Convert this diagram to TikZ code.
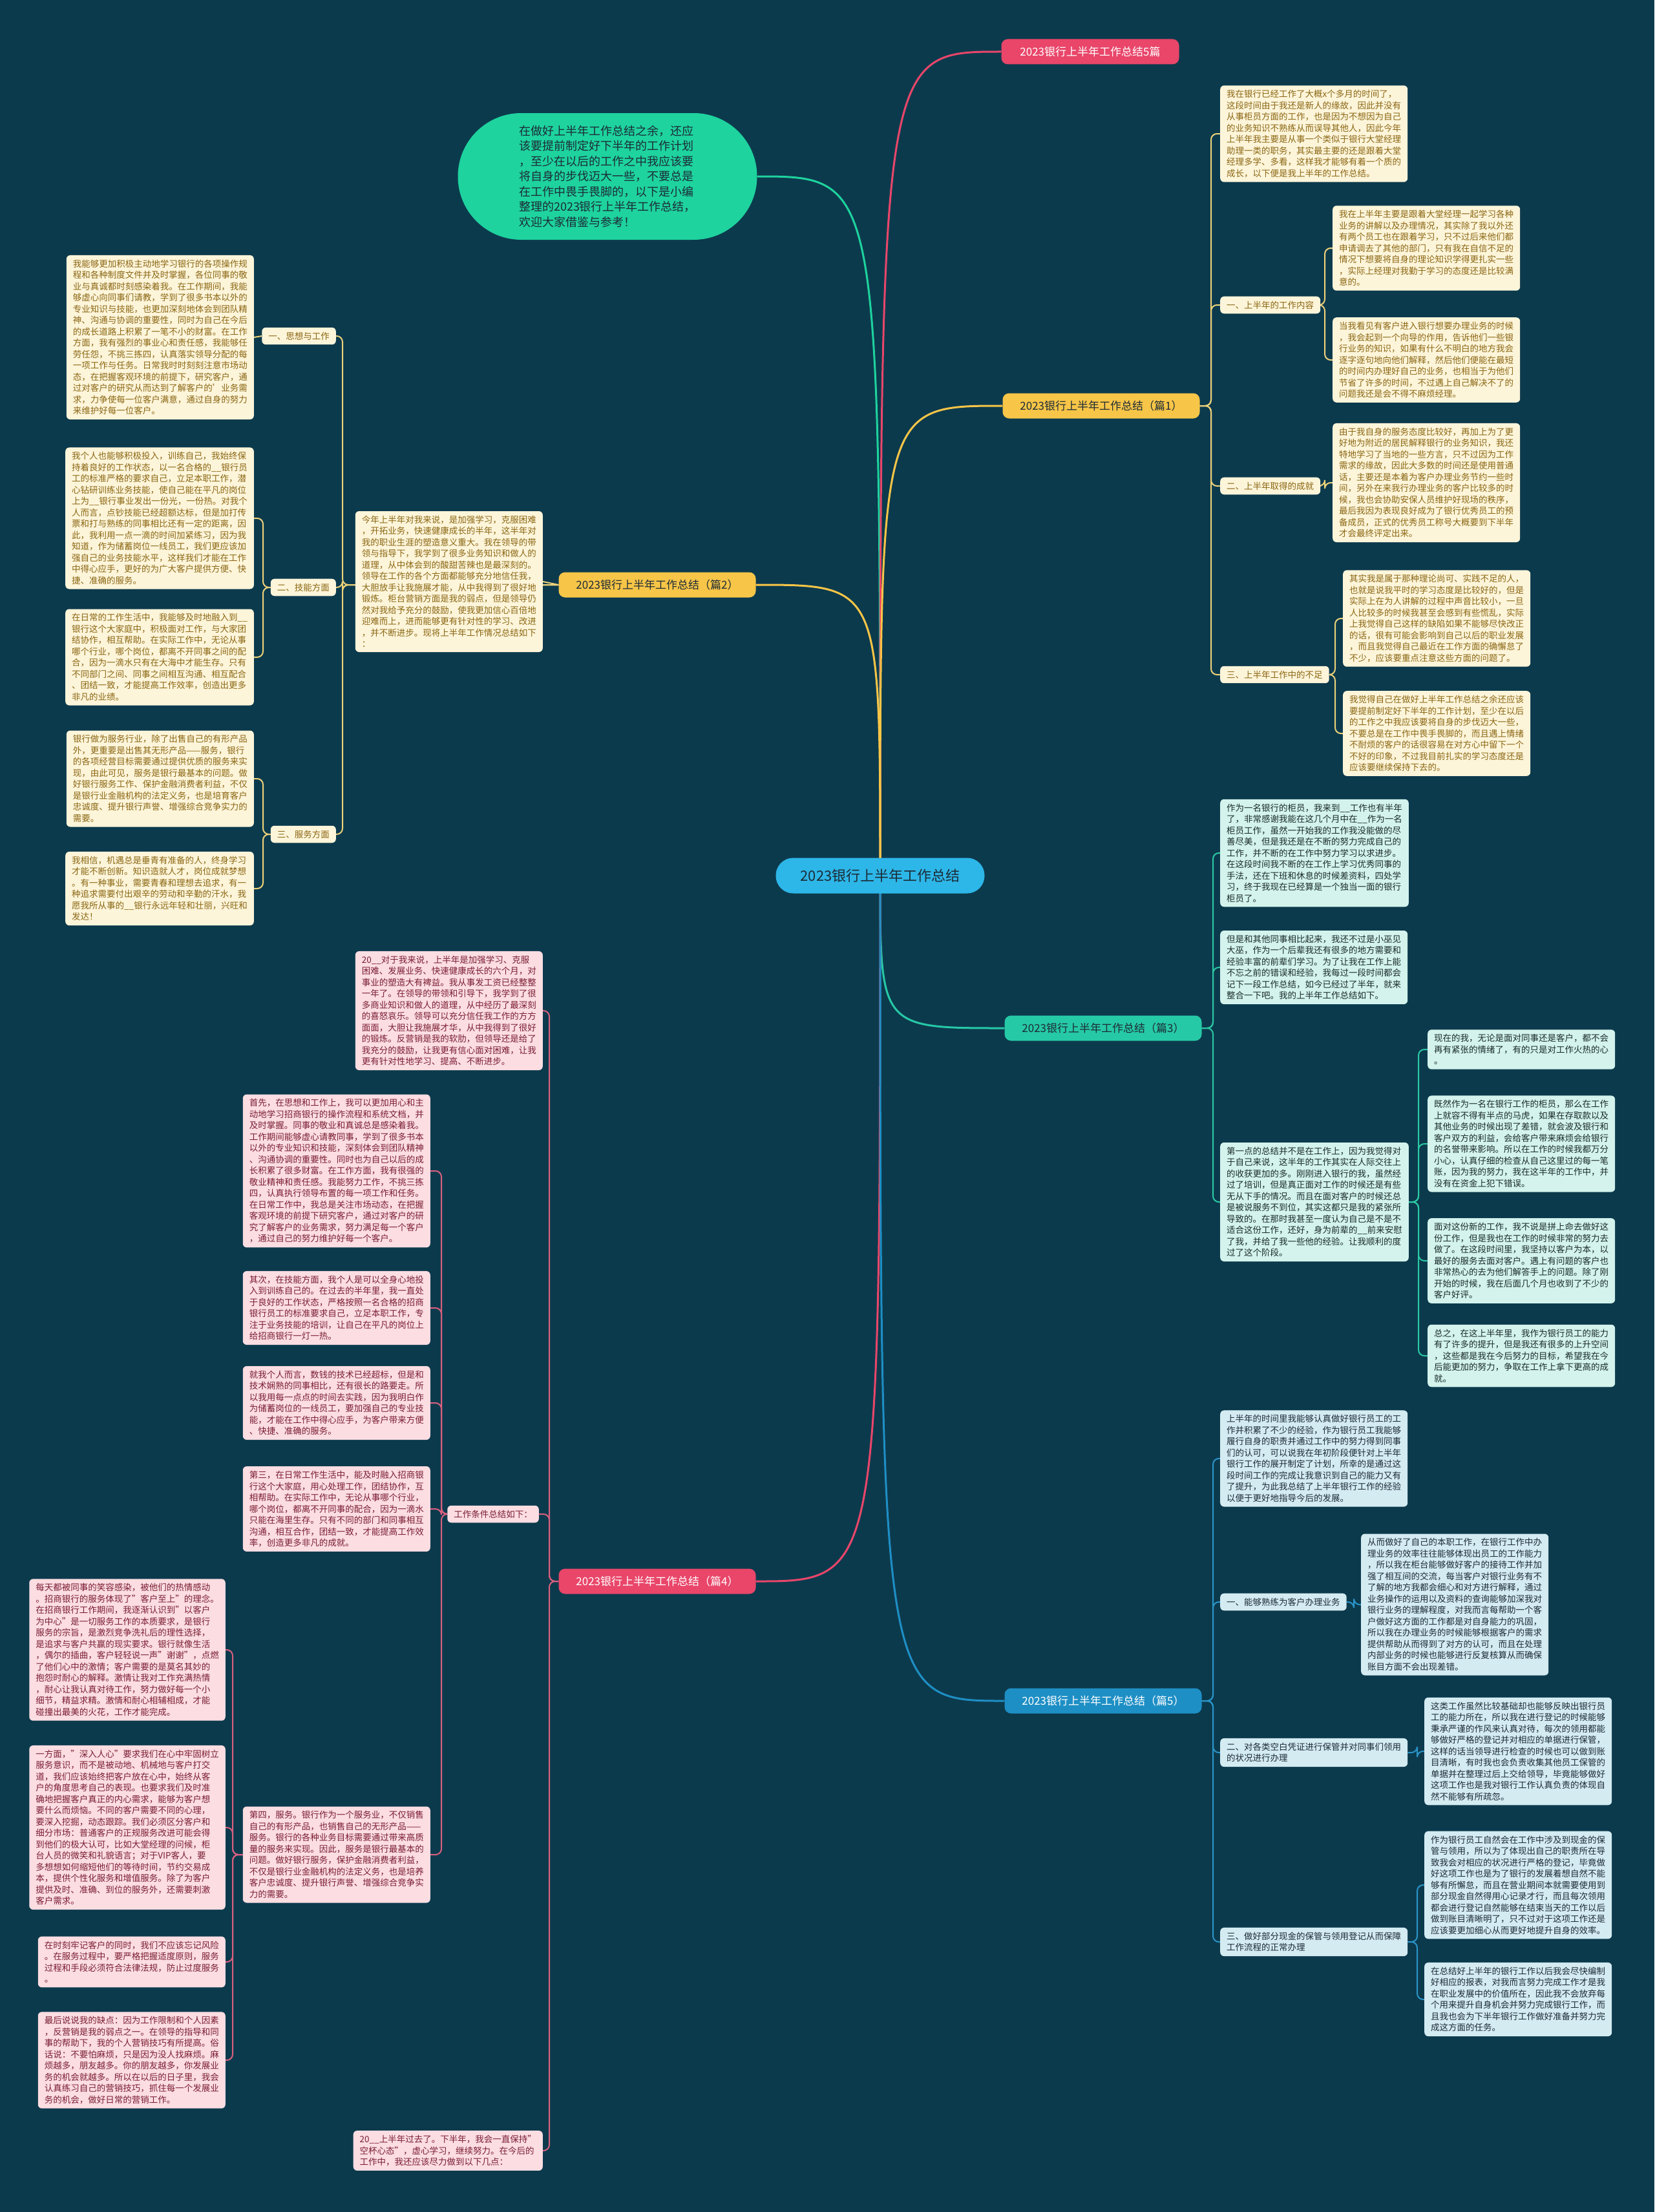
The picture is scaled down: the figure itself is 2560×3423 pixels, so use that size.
\documentclass[tikz,border=0pt]{standalone}
\usepackage{fontspec}
\setmainfont{Noto Sans CJK SC}
\usetikzlibrary{calc}
\pgfdeclarelayer{bg}
\pgfdeclarelayer{edges}
\pgfsetlayers{bg,edges,main}
\definecolor{bgc}{HTML}{0C3A4D}
\definecolor{centc}{HTML}{2DB6E8}
\definecolor{introc}{HTML}{1ED39E}
\definecolor{redc}{HTML}{E9466A}
\definecolor{yelc}{HTML}{F7C547}
\definecolor{tealc}{HTML}{26C9A6}
\definecolor{bluec}{HTML}{1E8FC5}
\definecolor{creamc}{HTML}{FDF5DA}
\definecolor{mintc}{HTML}{D3F3EC}
\definecolor{pinkc}{HTML}{FBDDE2}
\definecolor{lbluec}{HTML}{D4EBF2}
\definecolor{goldt}{HTML}{8A6612}
\definecolor{darkt}{HTML}{1B2B2B}
\definecolor{maroont}{HTML}{7B1E33}
\definecolor{slatet}{HTML}{1C2B36}
\definecolor{yline}{HTML}{EDD27A}
\definecolor{pline}{HTML}{D9607F}
\definecolor{tline}{HTML}{2BC9A3}
\definecolor{bline}{HTML}{2A95C9}
\newcommand{\bodyfs}{\fontsize{13.5}{17.5}\selectfont}
\tikzset{
  base/.style={rounded corners=6pt, inner xsep=10pt, inner ysep=7pt, align=left, font=\bodyfs},
  cream/.style={base, fill=creamc, text=goldt},
  mint/.style={base, fill=mintc, text=darkt},
  pinkb/.style={base, fill=pinkc, text=maroont},
  blueb/.style={base, fill=lbluec, text=slatet},
  branch/.style={rounded corners=10pt, minimum width=305pt, minimum height=39pt, inner sep=4pt, font=\fontsize{17}{20}\selectfont},
  ey/.style={draw=yline, line width=2pt, rounded corners=9pt},
  ep/.style={draw=pline, line width=2pt, rounded corners=9pt},
  et/.style={draw=tline, line width=2pt, rounded corners=9pt},
  eb/.style={draw=bline, line width=2pt, rounded corners=9pt},
  cl/.style={line width=3pt}
}
\begin{document}
\begin{tikzpicture}[x=1pt,y=-1pt]
\begin{pgfonlayer}{bg}
\fill[bgc] (0,0) rectangle (2560,3423);
\end{pgfonlayer}
\useasboundingbox (0,0) rectangle (2560,3423);

% trunks
\coordinate (t1) at (1874,0);
\coordinate (t1a) at (2050,0);
\coordinate (t1c) at (2066,0);
\coordinate (t2) at (530,0);
\coordinate (t2b) at (407,0);
\coordinate (t3) at (1877,0);
\coordinate (t3c) at (2195,0);
\coordinate (t4) at (850,0);
\coordinate (t4l) at (683,0);
\coordinate (t4f) at (360,0);
\coordinate (t5) at (1877,0);
\coordinate (t5a) at (2095,0);
\coordinate (t5b) at (2193,0);

% center and intro
\node[fill=centc, rounded corners=27pt, minimum width=323pt, minimum height=55pt, font=\fontsize{22}{26}\selectfont, text=slatet] (c) at (1362,1355) {2023银行上半年工作总结};
\node[fill=introc, rounded corners=98pt, minimum width=463pt, minimum height=196pt, align=left, font=\fontsize{18}{23.5}\selectfont, text=slatet] (intro) at (940,273) {在做好上半年工作总结之余，还应\\该要提前制定好下半年的工作计划\\，至少在以后的工作之中我应该要\\将自身的步伐迈大一些，不要总是\\在工作中畏手畏脚的，以下是小编\\整理的2023银行上半年工作总结，\\欢迎大家借鉴与参考！};

% branches
\node[branch, minimum width=275pt, fill=redc, text=white] (b0) at (1687,80) {2023银行上半年工作总结5篇};
\node[branch, fill=yelc, text=slatet] (b1) at (1704,628) {2023银行上半年工作总结（篇1）};
\node[branch, fill=yelc, text=slatet] (b2) at (1017,905) {2023银行上半年工作总结（篇2）};
\node[branch, fill=tealc, text=slatet] (b3) at (1707,1591) {2023银行上半年工作总结（篇3）};
\node[branch, fill=redc, text=white] (b4) at (1017,2447) {2023银行上半年工作总结（篇4）};
\node[branch, fill=bluec, text=white] (b5) at (1707,2632) {2023银行上半年工作总结（篇5）};

% ---------- 篇1
\node[cream, anchor=west] (p1a) at (1888,207) {我在银行已经工作了大概x个多月的时间了，\\这段时间由于我还是新人的缘故，因此并没有\\从事柜员方面的工作，也是因为不想因为自己\\的业务知识不熟练从而误导其他人，因此今年\\上半年我主要是从事一个类似于银行大堂经理\\助理一类的职务，其实最主要的还是跟着大堂\\经理多学、多看，这样我才能够有着一个质的\\成长，以下便是我上半年的工作总结。};
\node[cream, anchor=west] (l1a) at (1888,472) {一、上半年的工作内容};
\node[cream, anchor=west] (p1b) at (2062,384) {我在上半年主要是跟着大堂经理一起学习各种\\业务的讲解以及办理情况，其实除了我以外还\\有两个员工也在跟着学习，只不过后来他们都\\申请调去了其他的部门，只有我在自信不足的\\情况下想要将自身的理论知识学得更扎实一些\\，实际上经理对我勤于学习的态度还是比较满\\意的。};
\node[cream, anchor=west] (p1c) at (2062,557) {当我看见有客户进入银行想要办理业务的时候\\，我会起到一个向导的作用，告诉他们一些银\\行业务的知识，如果有什么不明白的地方我会\\逐字逐句地向他们解释，然后他们便能在最短\\的时间内办理好自己的业务，也相当于为他们\\节省了许多的时间，不过遇上自己解决不了的\\问题我还是会不得不麻烦经理。};
\node[cream, anchor=west] (l1b) at (1888,752) {二、上半年取得的成就};
\node[cream, anchor=west] (p1d) at (2062,747) {由于我自身的服务态度比较好，再加上为了更\\好地为附近的居民解释银行的业务知识，我还\\特地学习了当地的一些方言，只不过因为工作\\需求的缘故，因此大多数的时间还是使用普通\\话，主要还是本着为客户办理业务节约一些时\\间，另外在来我行办理业务的客户比较多的时\\候，我也会协助安保人员维护好现场的秩序，\\最后我因为表现良好成为了银行优秀员工的预\\备成员，正式的优秀员工称号大概要到下半年\\才会最终评定出来。};
\node[cream, anchor=west] (l1c) at (1888,1044) {三、上半年工作中的不足};
\node[cream, anchor=west] (p1e) at (2078,957) {其实我是属于那种理论尚可、实践不足的人，\\也就是说我平时的学习态度是比较好的，但是\\实际上在为人讲解的过程中声音比较小，一旦\\人比较多的时候我甚至会感到有些慌乱，实际\\上我觉得自己这样的缺陷如果不能够尽快改正\\的话，很有可能会影响到自己以后的职业发展\\，而且我觉得自己最近在工作方面的确懈怠了\\不少，应该要重点注意这些方面的问题了。};
\node[cream, anchor=west] (p1f) at (2078,1135) {我觉得自己在做好上半年工作总结之余还应该\\要提前制定好下半年的工作计划，至少在以后\\的工作之中我应该要将自身的步伐迈大一些，\\不要总是在工作中畏手畏脚的，而且遇上情绪\\不耐烦的客户的话很容易在对方心中留下一个\\不好的印象，不过我目前扎实的学习态度还是\\应该要继续保持下去的。};

% ---------- 篇2
\node[cream, anchor=east] (p2a) at (840,900) {今年上半年对我来说，是加强学习，克服困难\\，开拓业务，快速健康成长的半年，这半年对\\我的职业生涯的塑造意义重大。我在领导的带\\领与指导下，我学到了很多业务知识和做人的\\道理，从中体会到的酸甜苦辣也是最深刻的。\\领导在工作的各个方面都能够充分地信任我，\\大胆放手让我施展才能，从中我得到了很好地\\锻炼。柜台营销方面是我的弱点，但是领导仍\\然对我给予充分的鼓励，使我更加信心百倍地\\迎难而上，进而能够更有针对性的学习、改进\\，并不断进步。现将上半年工作情况总结如下\\：};
\node[cream, anchor=east] (l2a) at (520,520) {一、思想与工作};
\node[cream, anchor=east] (p2b) at (393,522) {我能够更加积极主动地学习银行的各项操作规\\程和各种制度文件并及时掌握，各位同事的敬\\业与真诚都时刻感染着我。在工作期间，我能\\够虚心向同事们请教，学到了很多书本以外的\\专业知识与技能，也更加深刻地体会到团队精\\神、沟通与协调的重要性，同时为自己在今后\\的成长道路上积累了一笔不小的财富。在工作\\方面，我有强烈的事业心和责任感，我能够任\\劳任怨，不挑三拣四，认真落实领导分配的每\\一项工作与任务。日常我时时刻刻注意市场动\\态，在把握客观环境的前提下，研究客户，通\\过对客户的研究从而达到了解客户的'业务需\\求，力争使每一位客户满意，通过自身的努力\\来维护好每一位客户。};
\node[cream, anchor=east] (l2b) at (520,909) {二、技能方面};
\node[cream, anchor=east] (p2c) at (393,802) {我个人也能够积极投入，训练自己，我始终保\\持着良好的工作状态，以一名合格的\_\_银行员\\工的标准严格的要求自己，立足本职工作，潜\\心钻研训练业务技能，使自己能在平凡的岗位\\上为\_\_银行事业发出一份光，一份热。对我个\\人而言，点钞技能已经超额达标，但是加打传\\票和打与熟练的同事相比还有一定的距离，因\\此，我利用一点一滴的时间加紧练习，因为我\\知道，作为储蓄岗位一线员工，我们更应该加\\强自己的业务技能水平，这样我们才能在工作\\中得心应手，更好的为广大客户提供方便、快\\捷、准确的服务。};
\node[cream, anchor=east] (p2d) at (393,1017) {在日常的工作生活中，我能够及时地融入到\_\_\\银行这个大家庭中，积极面对工作，与大家团\\结协作，相互帮助。在实际工作中，无论从事\\哪个行业，哪个岗位，都离不开同事之间的配\\合，因为一滴水只有在大海中才能生存。只有\\不同部门之间、同事之间相互沟通、相互配合\\、团结一致，才能提高工作效率，创造出更多\\非凡的业绩。};
\node[cream, anchor=east] (l2c) at (520,1291) {三、服务方面};
\node[cream, anchor=east] (p2e) at (393,1205) {银行做为服务行业，除了出售自己的有形产品\\外，更重要是出售其无形产品——服务，银行\\的各项经营目标需要通过提供优质的服务来实\\现，由此可见，服务是银行最基本的问题。做\\好银行服务工作、保护金融消费者利益，不仅\\是银行业金融机构的法定义务，也是培育客户\\忠诚度、提升银行声誉、增强综合竞争实力的\\需要。};
\node[cream, anchor=east] (p2f) at (393,1375) {我相信，机遇总是垂青有准备的人，终身学习\\才能不断创新。知识造就人才，岗位成就梦想\\。有一种事业，需要青春和理想去追求，有一\\种追求需要付出艰辛的劳动和辛勤的汗水，我\\愿我所从事的\_\_银行永远年轻和壮丽，兴旺和\\发达！};

% ---------- 篇3
\node[mint, anchor=west] (p3a) at (1888,1320) {作为一名银行的柜员，我来到\_\_工作也有半年\\了，非常感谢我能在这几个月中在\_\_作为一名\\柜员工作，虽然一开始我的工作我没能做的尽\\善尽美，但是我还是在不断的努力完成自己的\\工作，并不断的在工作中努力学习以求进步。\\在这段时间我不断的在工作上学习优秀同事的\\手法，还在下班和休息的时候差资料，四处学\\习，终于我现在已经算是一个独当一面的银行\\柜员了。};
\node[mint, anchor=west] (p3b) at (1888,1497) {但是和其他同事相比起来，我还不过是小巫见\\大巫，作为一个后辈我还有很多的地方需要和\\经验丰富的前辈们学习。为了让我在工作上能\\不忘之前的错误和经验，我每过一段时间都会\\记下一段工作总结，如今已经过了半年，就来\\整合一下吧。我的上半年工作总结如下。};
\node[mint, anchor=west] (p3c) at (1888,1860) {第一点的总结并不是在工作上，因为我觉得对\\于自己来说，这半年的工作其实在人际交往上\\的收获更加的多。刚刚进入银行的我，虽然经\\过了培训，但是真正面对工作的时候还是有些\\无从下手的情况。而且在面对客户的时候还总\\是被说服务不到位，其实这都只是我的紧张所\\导致的。在那时我甚至一度认为自己是不是不\\适合这份工作，还好，身为前辈的\_\_前来安慰\\了我，并给了我一些他的经验。让我顺利的度\\过了这个阶段。};
\node[mint, anchor=west] (p3d) at (2209,1624) {现在的我，无论是面对同事还是客户，都不会\\再有紧张的情绪了，有的只是对工作火热的心\\。};
\node[mint, anchor=west] (p3e) at (2209,1770) {既然作为一名在银行工作的柜员，那么在工作\\上就容不得有半点的马虎，如果在存取款以及\\其他业务的时候出现了差错，就会波及银行和\\客户双方的利益，会给客户带来麻烦会给银行\\的名誉带来影响。所以在工作的时候我都万分\\小心，认真仔细的检查从自己这里过的每一笔\\账，因为我的努力，我在这半年的工作中，并\\没有在资金上犯下错误。};
\node[mint, anchor=west] (p3f) at (2209,1951) {面对这份新的工作，我不说是拼上命去做好这\\份工作，但是我也在工作的时候非常的努力去\\做了。在这段时间里，我坚持以客户为本，以\\最好的服务去面对客户。遇上有问题的客户也\\非常热心的去为他们解答手上的问题。除了刚\\开始的时候，我在后面几个月也收到了不少的\\客户好评。};
\node[mint, anchor=west] (p3g) at (2209,2098) {总之，在这上半年里，我作为银行员工的能力\\有了许多的提升，但是我还有很多的上升空间\\，这些都是我在今后努力的目标，希望我在今\\后能更加的努力，争取在工作上拿下更高的成\\就。};

% ---------- 篇4
\node[pinkb, anchor=east] (p4a) at (840,1564) {20\_\_对于我来说，上半年是加强学习、克服\\困难、发展业务、快速健康成长的六个月，对\\事业的塑造大有裨益。我从事发工资已经整整\\一年了。在领导的带领和引导下，我学到了很\\多商业知识和做人的道理，从中经历了最深刻\\的喜怒哀乐。领导可以充分信任我工作的方方\\面面，大胆让我施展才华，从中我得到了很好\\的锻炼。反营销是我的软肋，但领导还是给了\\我充分的鼓励，让我更有信心面对困难，让我\\更有针对性地学习、提高、不断进步。};
\node[pinkb, anchor=east] (l4) at (834,2343) {工作条件总结如下：};
\node[pinkb, anchor=east] (p4k) at (840,3328) {20\_\_上半年过去了。下半年，我会一直保持"\\空杯心态"，虚心学习，继续努力。在今后的\\工作中，我还应该尽力做到以下几点：};
\node[pinkb, anchor=east] (p4b) at (666,1812) {首先，在思想和工作上，我可以更加用心和主\\动地学习招商银行的操作流程和系统文档，并\\及时掌握。同事的敬业和真诚总是感染着我。\\工作期间能够虚心请教同事，学到了很多书本\\以外的专业知识和技能，深刻体会到团队精神\\、沟通协调的重要性。同时也为自己以后的成\\长积累了很多财富。在工作方面，我有很强的\\敬业精神和责任感。我能努力工作，不挑三拣\\四，认真执行领导布置的每一项工作和任务。\\在日常工作中，我总是关注市场动态，在把握\\客观环境的前提下研究客户，通过对客户的研\\究了解客户的业务需求，努力满足每一个客户\\，通过自己的努力维护好每一个客户。};
\node[pinkb, anchor=east] (p4c) at (666,2024) {其次，在技能方面，我个人是可以全身心地投\\入到训练自己的。在过去的半年里，我一直处\\于良好的工作状态，严格按照一名合格的招商\\银行员工的标准要求自己，立足本职工作，专\\注于业务技能的培训，让自己在平凡的岗位上\\给招商银行一灯一热。};
\node[pinkb, anchor=east] (p4d) at (666,2171) {就我个人而言，数钱的技术已经超标，但是和\\技术娴熟的同事相比，还有很长的路要走。所\\以我用每一点点的时间去实践，因为我明白作\\为储蓄岗位的一线员工，要加强自己的专业技\\能，才能在工作中得心应手，为客户带来方便\\、快捷、准确的服务。};
\node[pinkb, anchor=east] (p4e) at (666,2335) {第三，在日常工作生活中，能及时融入招商银\\行这个大家庭，用心处理工作，团结协作，互\\相帮助。在实际工作中，无论从事哪个行业，\\哪个岗位，都离不开同事的配合，因为一滴水\\只能在海里生存。只有不同的部门和同事相互\\沟通，相互合作，团结一致，才能提高工作效\\率，创造更多非凡的成就。};
\node[pinkb, anchor=east] (p4f) at (666,2870) {第四，服务。银行作为一个服务业，不仅销售\\自己的有形产品，也销售自己的无形产品——\\服务。银行的各种业务目标需要通过带来高质\\量的服务来实现。因此，服务是银行最基本的\\问题。做好银行服务，保护金融消费者利益，\\不仅是银行业金融机构的法定义务，也是培养\\客户忠诚度、提升银行声誉、增强综合竞争实\\力的需要。};
\node[pinkb, anchor=east] (p4g) at (349,2553) {每天都被同事的笑容感染，被他们的热情感动\\。招商银行的服务体现了"客户至上"的理念。\\在招商银行工作期间，我逐渐认识到"以客户\\为中心"是一切服务工作的本质要求，是银行\\服务的宗旨，是激烈竞争洗礼后的理性选择，\\是追求与客户共赢的现实要求。银行就像生活\\，偶尔的插曲，客户轻轻说一声"谢谢"，点燃\\了他们心中的激情；客户需要的是莫名其妙的\\抱怨时耐心的解释。激情让我对工作充满热情\\，耐心让我认真对待工作，努力做好每一个小\\细节，精益求精。激情和耐心相辅相成，才能\\碰撞出最美的火花，工作才能完成。};
\node[pinkb, anchor=east] (p4h) at (349,2828) {一方面，"深入人心"要求我们在心中牢固树立\\服务意识，而不是被动地、机械地与客户打交\\道，我们应该始终把客户放在心中，始终从客\\户的角度思考自己的表现。也要求我们及时准\\确地把握客户真正的内心需求，能够为客户想\\要什么而烦恼。不同的客户需要不同的心理，\\要深入挖掘，动态跟踪。我们必须区分客户和\\细分市场：普通客户的正规服务改进可能会得\\到他们的极大认可，比如大堂经理的问候，柜\\台人员的微笑和礼貌语言；对于VIP客人，要\\多想想如何缩短他们的等待时间，节约交易成\\本，提供个性化服务和增值服务。除了为客户\\提供及时、准确、到位的服务外，还需要刺激\\客户需求。};
\node[pinkb, anchor=east] (p4i) at (349,3036) {在时刻牢记客户的同时，我们不应该忘记风险\\。在服务过程中，要严格把握适度原则，服务\\过程和手段必须符合法律法规，防止过度服务\\。};
\node[pinkb, anchor=east] (p4j) at (349,3188) {最后说说我的缺点：因为工作限制和个人因素\\，反营销是我的弱点之一。在领导的指导和同\\事的帮助下，我的个人营销技巧有所提高。俗\\话说：不要怕麻烦，只是因为没人找麻烦。麻\\烦越多，朋友越多。你的朋友越多，你发展业\\务的机会就越多。所以在以后的日子里，我会\\认真练习自己的营销技巧，抓住每一个发展业\\务的机会，做好日常的营销工作。};

% ---------- 篇5
\node[blueb, anchor=west] (p5a) at (1888,2257) {上半年的时间里我能够认真做好银行员工的工\\作并积累了不少的经验，作为银行员工我能够\\履行自身的职责并通过工作中的努力得到同事\\们的认可，可以说我在年初阶段便针对上半年\\银行工作的展开制定了计划，所幸的是通过这\\段时间工作的完成让我意识到自己的能力又有\\了提升，为此我总结了上半年银行工作的经验\\以便于更好地指导今后的发展。};
\node[blueb, anchor=west] (l5a) at (1888,2479) {一、能够熟练为客户办理业务};
\node[blueb, anchor=west] (p5b) at (2106,2483) {从而做好了自己的本职工作，在银行工作中办\\理业务的效率往往能够体现出员工的工作能力\\，所以我在柜台能够做好客户的接待工作并加\\强了相互间的交流，每当客户对银行业务有不\\了解的地方我都会细心和对方进行解释，通过\\业务操作的运用以及资料的查询能够加深我对\\银行业务的理解程度，对我而言每帮助一个客\\户做好这方面的工作都是对自身能力的巩固，\\所以我在办理业务的时候能够根据客户的需求\\提供帮助从而得到了对方的认可，而且在处理\\内部业务的时候也能够进行反复核算从而确保\\账目方面不会出现差错。};
\node[blueb, anchor=west] (l5b) at (1888,2712) {二、对各类空白凭证进行保管并对同事们领用\\的状况进行办理};
\node[blueb, anchor=west] (p5c) at (2204,2710) {这类工作虽然比较基础却也能够反映出银行员\\工的能力所在，所以我在进行登记的时候能够\\秉承严谨的作风来认真对待，每次的领用都能\\够做好严格的登记并对相应的单据进行保管，\\这样的话当领导进行检查的时候也可以做到账\\目清晰，有时我也会负责收集其他员工保管的\\单据并在整理过后上交给领导，毕竟能够做好\\这项工作也是我对银行工作认真负责的体现自\\然不能够有所疏忽。};
\node[blueb, anchor=west] (l5c) at (1888,3005) {三、做好部分现金的保管与领用登记从而保障\\工作流程的正常办理};
\node[blueb, anchor=west] (p5d) at (2204,2917) {作为银行员工自然会在工作中涉及到现金的保\\管与领用，所以为了体现出自己的职责所在导\\致我会对相应的状况进行严格的登记，毕竟做\\好这项工作也是为了银行的发展着想自然不能\\够有所懈怠，而且在营业期间本就需要使用到\\部分现金自然得用心记录才行，而且每次领用\\都会进行登记自然能够在结束当天的工作以后\\做到账目清晰明了，只不过对于这项工作还是\\应该要更加细心从而更好地提升自身的效率。};
\node[blueb, anchor=west] (p5e) at (2204,3094) {在总结好上半年的银行工作以后我会尽快编制\\好相应的报表，对我而言努力完成工作才是我\\在职业发展中的价值所在，因此我不会放弃每\\个用来提升自身机会并努力完成银行工作，而\\且我也会为下半年银行工作做好准备并努力完\\成这方面的任务。};

\begin{pgfonlayer}{edges}
% center curves
\draw[cl, draw=introc] (c.center) .. controls (c.center |- intro.east) .. (intro.east);
\draw[cl, draw=redc] (c.center) .. controls (c.center |- b0.west) .. (b0.west);
\draw[cl, draw=yelc] (c.center) .. controls (c.center |- b1.west) .. (b1.west);
\draw[cl, draw=yelc] (c.center) .. controls (c.center |- b2.east) .. (b2.east);
\draw[cl, draw=tealc] (c.center) .. controls (c.center |- b3.west) .. (b3.west);
\draw[cl, draw=redc] (c.center) .. controls (c.center |- b4.east) .. (b4.east);
\draw[cl, draw=bluec] (c.center) .. controls (c.center |- b5.west) .. (b5.west);
% 篇1
\foreach \n in {p1a,l1a,l1b,l1c} \draw[ey] (b1.east) -- (b1.east -| t1) |- (\n.west);
\foreach \n in {p1b,p1c} \draw[ey] (l1a.east) -- (l1a.east -| t1a) |- (\n.west);
\draw[ey] (l1b.east) -- (l1b.east -| t1a) |- (p1d.west);
\foreach \n in {p1e,p1f} \draw[ey] (l1c.east) -- (l1c.east -| t1c) |- (\n.west);
% 篇2
\draw[ey] (b2.west) -- (p2a.east);
\foreach \n in {l2a,l2b,l2c} \draw[ey] (b2.west) -- (b2.west -| t2) |- (\n.east);
\draw[ey] (l2a.west) -- (p2b.east);
\foreach \n in {p2c,p2d} \draw[ey] (l2b.west) -- (l2b.west -| t2b) |- (\n.east);
\foreach \n in {p2e,p2f} \draw[ey] (l2c.west) -- (l2c.west -| t2b) |- (\n.east);
% 篇3
\foreach \n in {p3a,p3b,p3c} \draw[et] (b3.east) -- (b3.east -| t3) |- (\n.west);
\foreach \n in {p3d,p3e,p3f,p3g} \draw[et] (p3c.east) -- (p3c.east -| t3c) |- (\n.west);
% 篇4
\foreach \n in {p4a,l4,p4k} \draw[ep] (b4.west) -- (b4.west -| t4) |- (\n.east);
\foreach \n in {p4b,p4c,p4d,p4e,p4f} \draw[ep] (l4.west) -- (l4.west -| t4l) |- (\n.east);
\foreach \n in {p4g,p4h,p4i,p4j} \draw[ep] (p4f.west) -- (p4f.west -| t4f) |- (\n.east);
% 篇5
\foreach \n in {p5a,l5a,l5b,l5c} \draw[eb] (b5.east) -- (b5.east -| t5) |- (\n.west);
\draw[eb] (l5a.east) -- (l5a.east -| t5a) |- (p5b.west);
\draw[eb] (l5b.east) -- (l5b.east -| t5b) |- (p5c.west);
\foreach \n in {p5d,p5e} \draw[eb] (l5c.east) -- (l5c.east -| t5b) |- (\n.west);
\end{pgfonlayer}
\end{tikzpicture}
\end{document}
